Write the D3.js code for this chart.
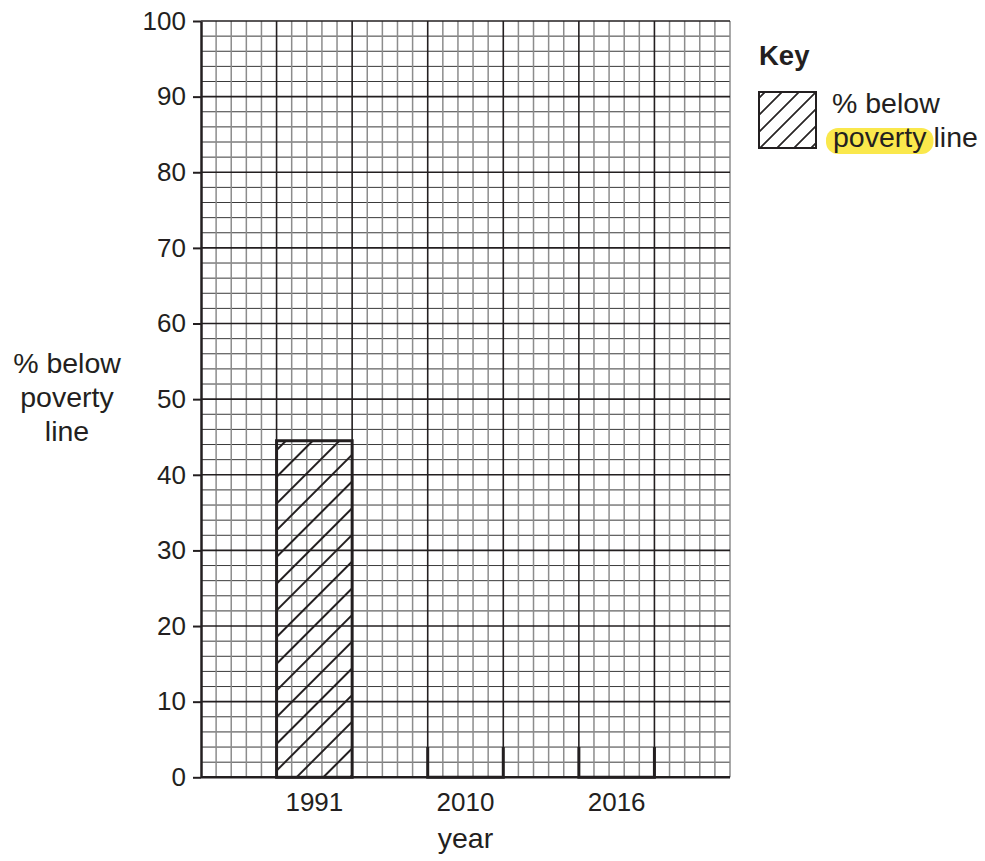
<!DOCTYPE html>
<html>
<head>
<meta charset="utf-8">
<script src="https://cdn.jsdelivr.net/npm/d3@7"></script>
<style>
  body { margin: 0; background: #fff; }
  text { font-family: "Liberation Sans", Arial, Helvetica, sans-serif; fill: #231f20; }
</style>
</head>
<body>
<div id="chart"></div>
<script>
(() => {
  "use strict"

  // Data
  const years = ['1991', '2010', '2016']
  const percentBelow = [44.5, null, null] // 2010 and 2016 left blank to be completed
  const yTicks = [0, 10, 20, 30, 40, 50, 60, 70, 80, 90, 100]
  const yLabelLines = ['% below', 'poverty', 'line']

  // Layout
  const width = 985, height = 861
  const left = 201, right = 730, top = 21, bottom = 777.3
  const ink = '#231f20'
  const numSize = 26, wordSize = 28.5
  const gridCols = 35        // small squares across
  const gridStep = 2         // % per small square
  const stubHeight = 4       // % height of the open bar stubs

  const svg = d3.select('#chart').append('svg')
    .attr('width', width)
    .attr('height', height)

  const y = d3.scaleLinear().domain([0, 100]).range([bottom, top])
  const x = d3.scaleBand().domain(years).range([left, right])
    .paddingInner(0.5).paddingOuter(0.5)
  const xGrid = d3.scaleLinear().domain([0, gridCols]).range([left, right])

  /****** HATCH PATTERNS ******/
  const defs = svg.append('defs')
  function addHatch(id, spacing, anchorX, anchorY, sw) {
    // lines run X + Y = const, spacing measured along the x direction
    const d = spacing / Math.SQRT2
    const tx = ((anchorX + anchorY) % spacing + spacing) % spacing
    const p = defs.append('pattern')
      .attr('id', id)
      .attr('patternUnits', 'userSpaceOnUse')
      .attr('width', d).attr('height', d)
      .attr('patternTransform', `translate(${tx},0) rotate(45)`)
    p.append('rect')
      .attr('x', -sw / 2).attr('y', -1).attr('width', sw).attr('height', d + 2)
      .attr('fill', ink)
    p.append('rect')
      .attr('x', d - sw / 2).attr('y', -1).attr('width', sw).attr('height', d + 2)
      .attr('fill', ink)
  }
  addHatch('hatch-bar', 26.7, x('1991') + 20, y(0), 2)
  addHatch('hatch-key', 17, 760, 148, 1.8)

  /****** GRID ******/
  const grid = svg.append('g')
  const rows = d3.range(0, 101, gridStep)
  grid.selectAll('.h-minor')
    .data(rows.filter(v => v % 10 !== 0))
    .enter().append('line')
      .attr('x1', left).attr('x2', right)
      .attr('y1', d => y(d)).attr('y2', d => y(d))
      .attr('stroke', '#3a3a3a').attr('stroke-width', 1)
  const cols = d3.range(1, gridCols + 1)
  grid.selectAll('.v-minor')
    .data(cols.filter(c => c % 5 !== 0 || c === gridCols))
    .enter().append('line')
      .attr('x1', d => xGrid(d)).attr('x2', d => xGrid(d))
      .attr('y1', top).attr('y2', bottom)
      .attr('stroke', '#8c8c8c').attr('stroke-width', 1.5)
  grid.selectAll('.h-major')
    .data(rows.filter(v => v % 10 === 0 && v > 0))
    .enter().append('line')
      .attr('x1', left).attr('x2', right)
      .attr('y1', d => y(d)).attr('y2', d => y(d))
      .attr('stroke', ink).attr('stroke-width', 1.6)
  grid.selectAll('.v-major')
    .data(cols.filter(c => c % 5 === 0 && c !== gridCols))
    .enter().append('line')
      .attr('x1', d => xGrid(d)).attr('x2', d => xGrid(d))
      .attr('y1', top).attr('y2', bottom)
      .attr('stroke', ink).attr('stroke-width', 1.6)

  /****** BARS ******/
  const bars = years.map((yr, i) => ({ year: yr, value: percentBelow[i] }))
  svg.selectAll('.bar')
    .data(bars.filter(b => b.value !== null))
    .enter().append('rect')
      .attr('x', d => x(d.year))
      .attr('y', d => y(d.value))
      .attr('width', x.bandwidth())
      .attr('height', d => y(0) - y(d.value))
      .attr('fill', 'url(#hatch-bar)')
      .attr('stroke', ink).attr('stroke-width', 3)

  // open stubs for the bars still to be drawn
  svg.selectAll('.stub')
    .data(bars.filter(b => b.value === null))
    .enter().append('path')
      .attr('d', d => {
        const x0 = x(d.year), x1 = x0 + x.bandwidth()
        return `M${x0},${y(stubHeight)}V${y(0)}H${x1}V${y(stubHeight)}`
      })
      .attr('fill', 'none')
      .attr('stroke', ink).attr('stroke-width', 3)

  /****** AXES ******/
  svg.append('line')
    .attr('x1', left).attr('x2', right)
    .attr('y1', y(0)).attr('y2', y(0))
    .attr('stroke', ink).attr('stroke-width', 2.5)

  const yAxis = svg.append('g')
    .attr('transform', `translate(${left},0)`)
    .call(d3.axisLeft(y).tickValues(yTicks).tickSize(8).tickPadding(7).tickSizeOuter(0))
  yAxis.attr('font-family', null)
  yAxis.select('.domain').attr('stroke', ink).attr('stroke-width', 2.5)
  yAxis.selectAll('.tick line').attr('stroke', ink).attr('stroke-width', 2)
  yAxis.selectAll('.tick text')
    .attr('font-size', numSize).attr('fill', ink)

  const xAxis = svg.append('g')
    .attr('transform', `translate(0,${y(0)})`)
    .call(d3.axisBottom(x).tickSize(0).tickPadding(0))
  xAxis.attr('font-family', null)
  xAxis.select('.domain').remove()
  xAxis.selectAll('.tick text')
    .attr('font-size', numSize).attr('fill', ink)
    .attr('dy', null).attr('y', 34)

  // axis titles
  svg.append('text')
    .attr('x', (left + right) / 2).attr('y', 848)
    .attr('text-anchor', 'middle').attr('font-size', wordSize)
    .text('year')
  svg.append('g').selectAll('text')
    .data(yLabelLines)
    .enter().append('text')
      .attr('x', 67)
      .attr('y', (d, i) => 373 + i * 34)
      .attr('text-anchor', 'middle').attr('font-size', wordSize)
      .text(d => d)

  /****** KEY ******/
  const key = svg.append('g')
  key.append('text')
    .attr('x', 759).attr('y', 65)
    .attr('font-size', wordSize - 1).attr('font-weight', 'bold')
    .text('Key')
  key.append('rect')
    .attr('x', 759).attr('y', 92)
    .attr('width', 57).attr('height', 56)
    .attr('fill', 'url(#hatch-key)')
    .attr('stroke', ink).attr('stroke-width', 2)
  key.append('text')
    .attr('x', 832).attr('y', 113)
    .attr('font-size', wordSize)
    .text('% below')
  const hl = key.append('rect')
    .attr('fill', '#fae84c')
  const poverty = key.append('text')
    .attr('x', 833).attr('y', 147)
    .attr('font-size', wordSize)
    .text('poverty')
  const pw = poverty.node().getComputedTextLength()
  hl.attr('x', 826).attr('y', 128)
    .attr('width', pw + 14).attr('height', 26)
    .attr('rx', 12)
  key.append('text')
    .attr('x', 833 + pw + 7).attr('y', 147)
    .attr('font-size', wordSize)
    .text('line')
})()
</script>
</body>
</html>
